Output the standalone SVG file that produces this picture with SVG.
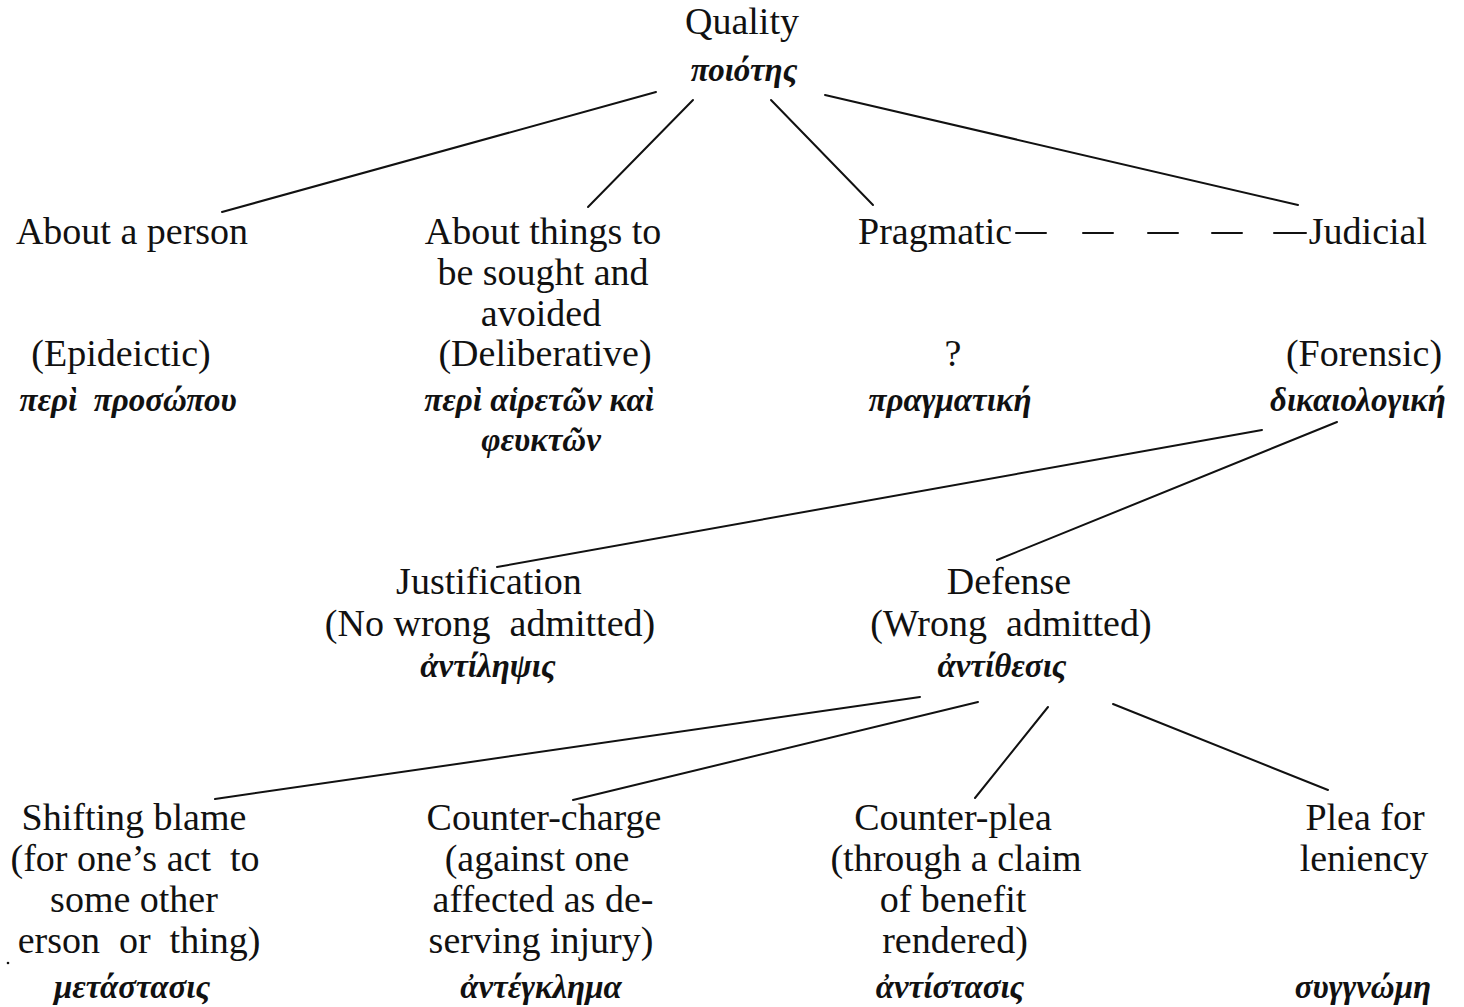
<svg xmlns="http://www.w3.org/2000/svg" width="1464" height="1007" viewBox="0 0 1464 1007">
<style>
text{font-family:"Liberation Serif","DejaVu Serif",serif;font-size:38px;fill:#111;text-anchor:middle;white-space:pre}
text.gr{font-style:italic;font-weight:bold;font-size:33px}
.c line,.c path{stroke:#111;stroke-width:2;fill:none;stroke-linecap:round}
</style>
<rect width="1464" height="1007" fill="#fff"/>
<g class="c" id="connectors">
<line x1="656" y1="92" x2="222" y2="212"/>
<line x1="693" y1="100" x2="588" y2="207"/>
<line x1="771" y1="100" x2="873" y2="205"/>
<line x1="825" y1="95" x2="1298" y2="205"/>
<path d="M1016 233H1046M1083 233H1113M1148 233H1178M1212 233H1242M1274 233H1306" stroke-linecap="butt"/>
<line x1="1262" y1="430" x2="497" y2="567"/>
<line x1="1337" y1="422" x2="997" y2="560"/>
<line x1="920" y1="697" x2="215" y2="799"/>
<line x1="978" y1="702" x2="573" y2="800"/>
<line x1="1048" y1="707" x2="975" y2="798"/>
<line x1="1113" y1="704" x2="1328" y2="790"/>
</g>
<g id="quality"><text x="742" y="34">Quality</text><text class="gr" x="744" y="81">ποιότης</text></g>
<g id="person"><text x="132" y="244">About a person</text><text x="121" y="366">(Epideictic)</text><text class="gr" x="128" y="411">περὶ  προσώπου</text></g>
<g id="things"><text x="543" y="244">About things to</text><text x="543" y="285">be sought and</text><text x="541" y="326">avoided</text><text x="545" y="366">(Deliberative)</text><text class="gr" x="539" y="411">περὶ αἱρετῶν καὶ</text><text class="gr" x="541" y="451">φευκτῶν</text></g>
<g id="pragmatic"><text x="858" y="244" style="text-anchor:start">Pragmatic</text><text x="953" y="366">?</text><text class="gr" x="950" y="411">πραγματική</text></g>
<g id="judicial"><text x="1427" y="244" style="text-anchor:end">Judicial</text><text x="1364" y="366">(Forensic)</text><text class="gr" x="1358" y="411">δικαιολογική</text></g>
<g id="justification"><text x="489" y="594">Justification</text><text x="490" y="636">(No wrong  admitted)</text><text class="gr" x="488" y="677">ἀντίληψις</text></g>
<g id="defense"><text x="1009" y="594">Defense</text><text x="1011" y="636">(Wrong  admitted)</text><text class="gr" x="1002" y="677">ἀντίθεσις</text></g>
<g id="shifting"><text x="134" y="830">Shifting blame</text><text x="135" y="871">(for one’s act  to</text><text x="134" y="912">some other</text><text x="139" y="953">erson  or  thing)</text><text class="gr" x="132" y="998">μετάστασις</text><circle cx="8" cy="963" r="1.3" fill="#111"/></g>
<g id="countercharge"><text x="544" y="830">Counter-charge</text><text x="537" y="871">(against one</text><text x="543" y="912">affected as de-</text><text x="541" y="953">serving injury)</text><text class="gr" x="541" y="998">ἀντέγκλημα</text></g>
<g id="counterplea"><text x="953" y="830">Counter-plea</text><text x="956" y="871">(through a claim</text><text x="953" y="912">of benefit</text><text x="955" y="953">rendered)</text><text class="gr" x="950" y="998">ἀντίστασις</text></g>
<g id="leniency"><text x="1365" y="830">Plea for</text><text x="1364" y="871">leniency</text><text class="gr" x="1363" y="998">συγγνώμη</text></g>
</svg>
